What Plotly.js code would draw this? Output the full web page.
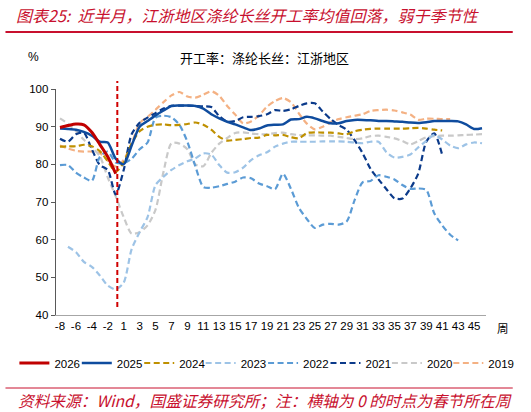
<!DOCTYPE html>
<html>
<head>
<meta charset="utf-8">
<script src="https://cdn.plot.ly/plotly-3.0.1.min.js"></script>
<style>
html,body{margin:0;padding:0;background:#fff;}
#chart{width:531px;height:412px;}
</style>
</head>
<body>
<div id="chart"></div>
<script>
// Week categories (0 = Spring Festival week is not a category)
const weeks = ["-8","-7","-6","-5","-4","-3","-2","-1","1","2","3","4","5","6","7","8","9","10","11","12","13","14","15","16","17","18","19","20","21","22","23","24","25","26","27","28","29","30","31","32","33","34","35","36","37","38","39","40","41","42","43","44","45","46"];
const tickLabels = ["-8","-6","-4","-2","1","3","5","7","9","11","13","15","17","19","21","23","25","27","29","31","33","35","37","39","41","43","45"];

const y2026 = [89.8,90.3,90.7,90.5,88.5,85.3,82,77.5];
const y2025 = [89.5,89.4,89.2,88.6,87.6,86,85.8,81.5,80,85,90,91.5,93,94.3,95.5,95.6,95.6,95.5,94.8,93.3,92.2,91.3,90.6,89.8,89.1,89.5,90.3,90.5,90.6,91.9,92,92.6,92.2,91.5,90.9,90.9,91.5,91.8,91.8,91.7,91.5,91.5,91.4,91.3,91.1,91,91.2,91.5,91.5,91.5,91.4,90.6,89.4,89.6];
const y2024 = [84.7,84.8,84.8,85.2,84.8,83.5,80.8,78,80.5,85.5,88.8,90,90.5,90.6,90.4,90.5,90.7,91.1,90.5,89.2,87.3,86.3,86.5,86.7,87,87.1,87.8,87.7,87.8,87.2,86.9,88.3,88.5,88.4,88.4,88.2,88,88.8,89.2,89.4,89.5,89.5,89.5,89.5,89.6,89.7,89.5,89.2,89];
const y2023 = [null,58.1,56.7,54.1,52.8,50.5,47.8,46.8,48.6,57.5,62,66,74.5,76.7,78.5,79.8,80.8,81.6,82.9,82.6,79.8,77.8,77.9,79.1,81.1,82.4,83.2,84.7,85.5,86,86,86,86,86.1,86.1,86.1,86,85.8,85.6,86,86,83.2,81.8,82,82.6,84.5,86.2,87.8,86.6,85,84.3,85.3,85.8,85.6];
const y2022 = [79.8,79.8,77.8,76.5,75.6,82,83.4,80.5,80.3,81.5,84,85.8,92.4,92.9,92.5,90.5,86,79.5,74,73.8,74.2,74.8,75.4,76.5,76.3,74.9,74.2,73.4,77.5,73.5,68.5,65.5,63.1,64,64.2,64,64.8,70.5,75.2,75.6,77.1,76.7,76,74.5,73.5,73.6,73.2,67,63.8,61.3,59.8];
const y2021 = [86.8,86,88,88.4,84,79.8,78.5,72,78.5,88,91,92.4,93.6,94.8,95.5,95.6,95.6,95.5,95.4,95.2,92.8,91.3,91.5,92.5,92.6,92.8,93.3,94.4,94.2,94.6,95.5,96.2,96.2,94,92,90.4,89.2,86.4,83,78.8,76,73.4,71,70.9,73.6,77.6,86,88.2,82.5];
const y2020 = [92.2,90.8,88.8,86.5,84.5,82.2,76.5,71.5,66,61.6,62,63.8,68,78,85.6,85.5,84,80,79.5,83,85.5,87,88.3,88.5,88.2,88,88,88.3,88.4,88,87.8,87.7,87.7,87.6,87.6,87.3,87,86.7,86.9,87.5,87.6,87.3,86.9,86.2,85.3,86.2,87.2,87.5,87.6,87.6,87.7,87.8,87.9,88];
const y2019 = [85,84.2,83.6,83.4,83.4,83,81,79.4,81.2,85.5,90.9,92.6,94.5,96.5,98.3,99.2,98,97.7,98.5,99.4,98.2,95.5,93.2,90.9,91.4,93,95.3,96.8,97.6,96.5,93.5,90.8,89.3,90,91.2,92,92.5,92.9,93.3,94.2,94.4,94.5,94.3,93.8,93.2,91.8,92.1,92.1,92,92];

const seriesNames = ["2026","2025","2024","2023","2022","2021","2020","2019"];
const seriesData = [y2026,y2025,y2024,y2023,y2022,y2021,y2020,y2019];
const seriesColors = ["#C00000","#0F4C9E","#BF9000","#9DC3E6","#5B9BD5","#0B3A8A","#C9C9C9","#F4B183"];
const seriesDash = ["solid","solid","6px,3.5px","6px,3.5px","6px,3.5px","6px,3.5px","6px,3.5px","6px,3.5px"];
const seriesWidth = [3,2.5,2.2,2.2,2.2,2.2,2.2,2.2];

// legend entry left edges (px) — layout only
const legendLeftPx = [14, 77, 140, 202, 265, 328, 390, 452];

const legendId = k => (k === 0 ? "legend" : "legend" + (k + 1));

const traces = [];
for (let k = seriesNames.length - 1; k >= 0; k--) {
  const ys = seriesData[k];
  traces.push({
    type: "scatter",
    mode: "lines",
    name: seriesNames[k],
    legend: legendId(k),
    x: weeks.slice(0, ys.length),
    y: ys,
    connectgaps: false,
    line: {color: seriesColors[k], width: seriesWidth[k], dash: seriesDash[k], shape: "spline", smoothing: 0.7},
    hoverinfo: "skip"
  });
}

// plot area in pixels
const L = 56, R = 490, T = 89, B = 315;
const W = 531, H = 412;
const px = v => (v - L) / (R - L);
const py = v => (B - v) / (B - T);

const red = "#C8102E";
const cjk = "'Noto Sans CJK SC', 'Noto Sans', sans-serif";
const lat = "'Liberation Sans', Arial, sans-serif";

const layout = {
  width: W, height: H,
  margin: {l: L, r: W - R, t: T, b: H - B, pad: 0},
  paper_bgcolor: "#ffffff",
  plot_bgcolor: "#ffffff",
  showlegend: true,
  xaxis: {
    type: "category",
    range: [-0.5, 53.5],
    tickmode: "array",
    tickvals: tickLabels,
    ticktext: tickLabels,
    showline: true, linecolor: "#A6A6A6", linewidth: 1.3,
    ticks: "", showgrid: false, zeroline: false,
    tickfont: {family: lat, size: 11.5, color: "#000"},
    fixedrange: true
  },
  yaxis: {
    range: [40, 100],
    tickvals: [40,50,60,70,80,90,100],
    showline: true, linecolor: "#595959", linewidth: 1.3,
    ticks: "outside", ticklen: 4, tickcolor: "#595959", tickwidth: 1,
    showgrid: false, zeroline: false,
    tickfont: {family: lat, size: 11.5, color: "#000"},
    fixedrange: true
  },
  shapes: [
    {type: "line", xref: "x", yref: "paper", x0: 7.2, x1: 7.2, y0: py(307), y1: py(81),
     line: {color: "#D00000", width: 2, dash: "5px,3px"}},
    {type: "line", xref: "paper", yref: "paper", x0: px(5), x1: px(517), y0: py(32), y1: py(32),
     line: {color: red, width: 2}},
    {type: "line", xref: "paper", yref: "paper", x0: px(5), x1: px(517), y0: py(388), y1: py(388),
     line: {color: red, width: 1}}
  ],
  annotations: [
    {xref: "paper", yref: "paper", x: px(14), y: py(15), xanchor: "left", yanchor: "middle", showarrow: false,
     text: "<i>图表25:  近半月，江浙地区涤纶长丝开工率均值回落，弱于季节性</i>",
     font: {family: cjk, size: 16, color: red}},
    {xref: "paper", yref: "paper", x: px(266), y: py(57), xanchor: "center", yanchor: "middle", showarrow: false,
     text: "开工率：涤纶长丝：江浙地区",
     font: {family: cjk, size: 13, color: "#000"}},
    {xref: "paper", yref: "paper", x: px(33), y: py(57), xanchor: "center", yanchor: "middle", showarrow: false,
     text: "%", font: {family: lat, size: 12, color: "#000"}},
    {xref: "paper", yref: "paper", x: px(507), y: py(328), xanchor: "center", yanchor: "middle", showarrow: false,
     text: "周", font: {family: cjk, size: 11.5, color: "#000"}},
    {xref: "paper", yref: "paper", x: px(16), y: py(400), xanchor: "left", yanchor: "middle", showarrow: false,
     text: "<i>资料来源：Wind，国盛证券研究所；注：横轴为 0 的时点为春节所在周</i>",
     font: {family: cjk, size: 15.7, color: red}}
  ]
};

for (let k = 0; k < seriesNames.length; k++) {
  layout[legendId(k)] = {
    orientation: "h",
    xanchor: "left",
    x: px(legendLeftPx[k]),
    y: py(363), yanchor: "middle",
    font: {family: lat, size: 11.5, color: "#000"},
    itemwidth: 30,
    bgcolor: "rgba(0,0,0,0)"
  };
}

Plotly.newPlot("chart", traces, layout, {displayModeBar: false, staticPlot: true});
</script>
</body>
</html>
